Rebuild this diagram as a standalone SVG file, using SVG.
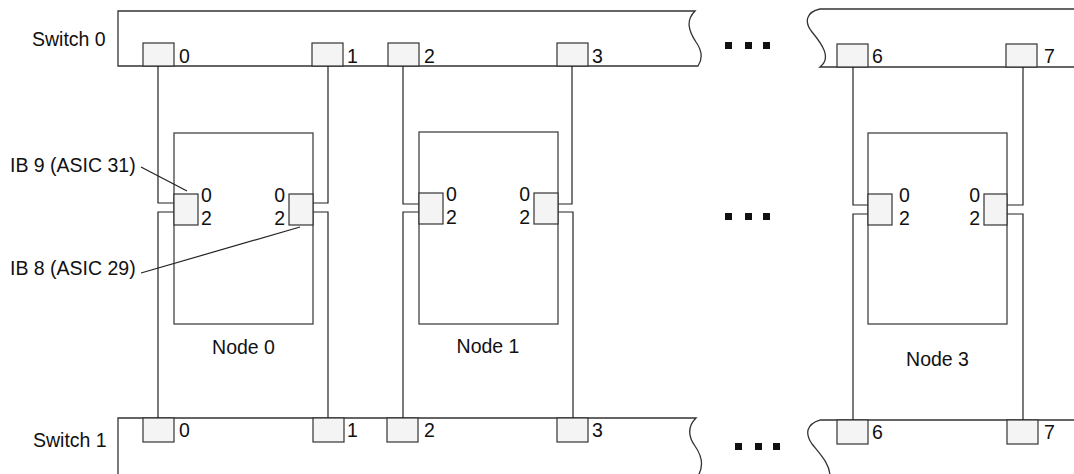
<svg xmlns="http://www.w3.org/2000/svg" width="1074" height="474" viewBox="0 0 1074 474">
<style>
text{font-family:"Liberation Sans",Arial,Helvetica,sans-serif;font-size:19.5px;fill:#111}
.sw{fill:#fff;stroke:#333;stroke-width:1.3}
.port{fill:#f4f4f4;stroke:#333;stroke-width:1.2}
.box{fill:#fff;stroke:#444;stroke-width:1.3}
.ln{fill:none;stroke:#222;stroke-width:1.2}
.dot{fill:#111}
.e{text-anchor:end}
.m{text-anchor:middle}
</style>
<rect width="1074" height="474" fill="#fff"/>

<g id="switch0">
<path class="sw" d="M118,11 H695 C686,20 688,30 696,42 C703,52 702,60 698,66 H118 Z"/>
<path class="sw" d="M1076,9 H820 C806,12 804,22 812,32 C822,44 832,58 820,67 H1076"/>
<text x="32" y="46">Switch 0</text>
<rect class="port" x="143" y="43" width="31" height="23"/><text x="179" y="63">0</text>
<rect class="port" x="312" y="43" width="31" height="23"/><text x="347" y="63">1</text>
<rect class="port" x="388" y="43" width="31" height="23"/><text x="424" y="63">2</text>
<rect class="port" x="557" y="43" width="31" height="23"/><text x="592" y="63">3</text>
<rect class="port" x="837" y="44" width="31" height="23"/><text x="872" y="63">6</text>
<rect class="port" x="1006" y="44" width="31" height="23"/><text x="1044" y="63">7</text>
</g>

<g id="switch1">
<path class="sw" d="M118,476 V418 H696 C688,426 688,436 695,446 C702,456 704,466 698,476"/>
<path class="sw" d="M1076,420 H820 C806,424 805,434 812,444 C820,454 830,464 830,476"/>
<text x="33" y="447">Switch 1</text>
<rect class="port" x="143" y="418" width="31" height="24"/><text x="179" y="437">0</text>
<rect class="port" x="313" y="418" width="31" height="24"/><text x="347" y="437">1</text>
<rect class="port" x="387" y="418" width="31" height="24"/><text x="424" y="437">2</text>
<rect class="port" x="557" y="418" width="31" height="24"/><text x="592" y="437">3</text>
<rect class="port" x="837" y="420" width="31" height="24"/><text x="872" y="439">6</text>
<rect class="port" x="1007" y="420" width="31" height="24"/><text x="1044" y="439">7</text>
</g>

<g id="connectors">
<path class="ln" d="M158,66 V203 H174"/>
<path class="ln" d="M174,212 H158 V418"/>
<path class="ln" d="M328,66 V203 H313"/>
<path class="ln" d="M313,212 H328 V418"/>
<path class="ln" d="M403,66 V204 H419"/>
<path class="ln" d="M419,212 H403 V418"/>
<path class="ln" d="M572,66 V204 H558"/>
<path class="ln" d="M558,212 H573 V418"/>
<path class="ln" d="M853,67 V205 H868"/>
<path class="ln" d="M868,214 H853 V420"/>
<path class="ln" d="M1023,67 V205 H1007"/>
<path class="ln" d="M1007,214 H1023 V420"/>
</g>

<g id="node0">
<rect class="box" x="174" y="133" width="139" height="191"/>
<rect class="port" x="174" y="194" width="24" height="31"/>
<rect class="port" x="289" y="194" width="24" height="31"/>
<text x="201" y="202">0</text><text x="201" y="225">2</text>
<text class="e" x="285" y="202">0</text><text class="e" x="285" y="225">2</text>
<text class="m" x="243.5" y="354">Node 0</text>
</g>

<g id="node1">
<rect class="box" x="419" y="132" width="139" height="192"/>
<rect class="port" x="419" y="193" width="24" height="31"/>
<rect class="port" x="534" y="193" width="24" height="31"/>
<text x="446" y="201">0</text><text x="446" y="224">2</text>
<text class="e" x="530" y="201">0</text><text class="e" x="530" y="224">2</text>
<text class="m" x="488" y="353">Node 1</text>
</g>

<g id="node3">
<rect class="box" x="868" y="133" width="139" height="191"/>
<rect class="port" x="868" y="194" width="24" height="31"/>
<rect class="port" x="984" y="194" width="23" height="31"/>
<text x="899" y="202">0</text><text x="899" y="225">2</text>
<text class="e" x="980" y="202">0</text><text class="e" x="980" y="225">2</text>
<text class="m" x="937.5" y="366">Node 3</text>
</g>

<g id="labels">
<text x="10" y="172">IB 9 (ASIC 31)</text>
<text x="10" y="275">IB 8 (ASIC 29)</text>
<path class="ln" d="M141,167 L187,191"/>
<path class="ln" d="M141,273 L300,227"/>
</g>

<g id="ellipses">
<rect class="dot" x="725" y="42" width="7" height="7"/>
<rect class="dot" x="745" y="42" width="7" height="7"/>
<rect class="dot" x="763" y="42" width="7" height="7"/>
<rect class="dot" x="725" y="213" width="7" height="7"/>
<rect class="dot" x="745" y="213" width="7" height="7"/>
<rect class="dot" x="763" y="213" width="7" height="7"/>
<rect class="dot" x="735" y="443" width="7" height="7"/>
<rect class="dot" x="755" y="443" width="7" height="7"/>
<rect class="dot" x="773" y="443" width="7" height="7"/>
</g>
</svg>
